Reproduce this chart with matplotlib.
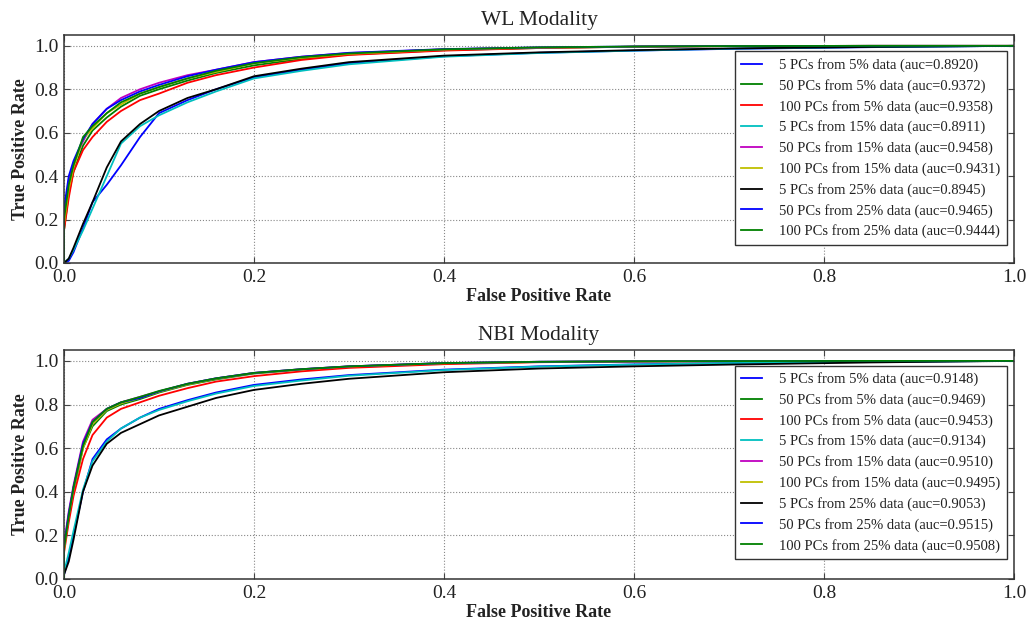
import matplotlib
matplotlib.use("Agg")
import matplotlib.pyplot as plt

plt.rcParams['font.family'] = ['Liberation Serif', 'DejaVu Serif']

# False positive rate grid shared by every curve
fpr = [0, 0, 0.005, 0.01, 0.02, 0.03, 0.045, 0.06, 0.08, 0.1, 0.13, 0.16,
       0.2, 0.25, 0.3, 0.4, 0.5, 0.6, 0.7, 0.85, 1.0]

labels = [
    "5 PCs from 5% data", "50 PCs from 5% data", "100 PCs from 5% data",
    "5 PCs from 15% data", "50 PCs from 15% data", "100 PCs from 15% data",
    "5 PCs from 25% data", "50 PCs from 25% data", "100 PCs from 25% data",
]
colors = ['#0000ff', '#008000', '#ff0000', '#00bfbf', '#bf00bf', '#bfbf00',
          '#000000', '#0000ff', '#008000']

# WL modality
wl_auc = [0.8920, 0.9372, 0.9358, 0.8911, 0.9458, 0.9431, 0.8945, 0.9465, 0.9444]
wl_tpr = [
    [0, 0, 0.01, 0.05, 0.16, 0.28, 0.36, 0.45, 0.58, 0.69, 0.75, 0.80, 0.855, 0.89, 0.92, 0.952, 0.968, 0.978, 0.986, 0.994, 1.0],
    [0, 0.15, 0.32, 0.42, 0.54, 0.61, 0.67, 0.72, 0.77, 0.80, 0.84, 0.875, 0.91, 0.94, 0.96, 0.98, 0.99, 0.996, 0.999, 1.0, 1.0],
    [0, 0.15, 0.30, 0.42, 0.52, 0.58, 0.65, 0.70, 0.75, 0.78, 0.83, 0.865, 0.90, 0.935, 0.958, 0.978, 0.99, 0.996, 0.999, 1.0, 1.0],
    [0, 0, 0.02, 0.06, 0.15, 0.25, 0.40, 0.55, 0.63, 0.68, 0.74, 0.79, 0.85, 0.885, 0.915, 0.95, 0.967, 0.978, 0.987, 0.995, 1.0],
    [0, 0.22, 0.38, 0.46, 0.56, 0.64, 0.71, 0.76, 0.80, 0.83, 0.865, 0.89, 0.925, 0.95, 0.967, 0.984, 0.992, 0.996, 0.999, 1.0, 1.0],
    [0, 0.18, 0.34, 0.44, 0.57, 0.62, 0.69, 0.73, 0.78, 0.81, 0.85, 0.88, 0.92, 0.945, 0.963, 0.983, 0.992, 0.996, 0.999, 1.0, 1.0],
    [0, 0, 0.02, 0.07, 0.18, 0.28, 0.44, 0.56, 0.64, 0.70, 0.76, 0.80, 0.86, 0.895, 0.925, 0.955, 0.97, 0.98, 0.988, 0.995, 1.0],
    [0, 0.25, 0.40, 0.47, 0.57, 0.64, 0.71, 0.75, 0.79, 0.82, 0.86, 0.89, 0.925, 0.95, 0.968, 0.985, 0.993, 0.997, 0.999, 1.0, 1.0],
    [0, 0.20, 0.36, 0.45, 0.58, 0.63, 0.69, 0.74, 0.78, 0.81, 0.85, 0.885, 0.92, 0.948, 0.965, 0.984, 0.993, 0.997, 0.999, 1.0, 1.0],
]

# NBI modality
nbi_auc = [0.9148, 0.9469, 0.9453, 0.9134, 0.9510, 0.9495, 0.9053, 0.9515, 0.9508]
nbi_tpr = [
    [0, 0.02, 0.10, 0.20, 0.40, 0.55, 0.64, 0.69, 0.74, 0.78, 0.82, 0.855, 0.89, 0.915, 0.935, 0.96, 0.975, 0.984, 0.99, 0.996, 1.0],
    [0, 0.14, 0.28, 0.40, 0.60, 0.70, 0.77, 0.80, 0.825, 0.855, 0.89, 0.915, 0.942, 0.96, 0.974, 0.989, 0.995, 0.998, 0.999, 1.0, 1.0],
    [0, 0.12, 0.26, 0.38, 0.55, 0.66, 0.74, 0.78, 0.81, 0.84, 0.875, 0.905, 0.93, 0.952, 0.968, 0.985, 0.994, 0.997, 0.999, 1.0, 1.0],
    [0, 0.03, 0.12, 0.22, 0.41, 0.54, 0.63, 0.69, 0.74, 0.775, 0.815, 0.85, 0.885, 0.91, 0.932, 0.958, 0.974, 0.983, 0.99, 0.996, 1.0],
    [0, 0.16, 0.31, 0.43, 0.63, 0.73, 0.78, 0.81, 0.835, 0.86, 0.895, 0.92, 0.945, 0.962, 0.975, 0.99, 0.996, 0.998, 0.999, 1.0, 1.0],
    [0, 0.13, 0.29, 0.41, 0.60, 0.71, 0.775, 0.805, 0.83, 0.858, 0.892, 0.918, 0.944, 0.961, 0.974, 0.989, 0.995, 0.998, 0.999, 1.0, 1.0],
    [0, 0.02, 0.08, 0.18, 0.40, 0.52, 0.62, 0.67, 0.71, 0.75, 0.79, 0.83, 0.867, 0.895, 0.918, 0.948, 0.965, 0.975, 0.983, 0.993, 1.0],
    [0, 0.15, 0.30, 0.42, 0.62, 0.72, 0.78, 0.81, 0.83, 0.86, 0.895, 0.92, 0.945, 0.962, 0.975, 0.99, 0.996, 0.998, 0.999, 1.0, 1.0],
    [0, 0.14, 0.29, 0.42, 0.61, 0.72, 0.78, 0.81, 0.835, 0.862, 0.895, 0.92, 0.945, 0.962, 0.975, 0.99, 0.996, 0.998, 0.999, 1.0, 1.0],
]

fig = plt.figure(figsize=(10.29, 6.26), dpi=100)
ax_wl = fig.add_axes([0.0622, 0.5799, 0.9232, 0.3642])
ax_nbi = fig.add_axes([0.0622, 0.0751, 0.9232, 0.3658])


def draw_panel(ax, tprs, aucs, title, legend_y):
    for tpr, auc, lab, col in zip(tprs, aucs, labels, colors):
        ax.plot(fpr, tpr, color=col, lw=1.3,
                label=f"{lab} (auc={auc:.4f})")
    ax.set_xlim(0, 1.0)
    ax.set_ylim(0, 1.05)
    ax.set_xticks([0, 0.2, 0.4, 0.6, 0.8, 1.0])
    ax.set_yticks([0, 0.2, 0.4, 0.6, 0.8, 1.0])
    ax.xaxis.set_major_formatter(plt.FormatStrFormatter('%.1f'))
    ax.yaxis.set_major_formatter(plt.FormatStrFormatter('%.1f'))
    ax.tick_params(direction='in', top=True, right=True, labelsize=14,
                   length=4, width=0.8, pad=4, labelcolor='#222222',
                   color='#444444')
    ax.grid(True, linestyle=':', color='#888888', lw=0.8)
    for sp in ax.spines.values():
        sp.set_linewidth(1.1)
        sp.set_color('#333333')
    ax.set_title(title, fontsize=15.5, pad=7, color='#222222')
    ax.set_xlabel("False Positive Rate", fontsize=13, fontweight='bold',
                  labelpad=2, color='#222222')
    ax.set_ylabel("True Positive Rate", fontsize=13, fontweight='bold',
                  labelpad=4, color='#222222')
    leg = ax.legend(loc='lower right', bbox_to_anchor=(0.9926, legend_y),
                    borderaxespad=0, fontsize=10.5, handlelength=1.4,
                    handletextpad=1.2, labelspacing=0.47, borderpad=0.45,
                    fancybox=False, framealpha=1.0, edgecolor='#333333')
    leg.get_frame().set_linewidth(1.0)
    for t in leg.get_texts():
        t.set_color('#222222')


draw_panel(ax_wl, wl_tpr, wl_auc, "WL Modality", 0.079)
draw_panel(ax_nbi, nbi_tpr, nbi_auc, "NBI Modality", 0.087)

fig.savefig("out.png", dpi=100)
